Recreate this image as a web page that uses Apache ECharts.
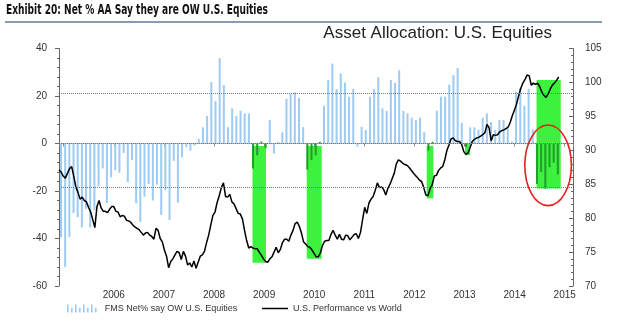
<!DOCTYPE html>
<html><head><meta charset="utf-8">
<script src="https://cdn.jsdelivr.net/npm/echarts@6/dist/echarts.min.js"></script>
<style>html,body{margin:0;padding:0;background:#fff}#c{width:632px;height:323px}</style>
</head><body><div id="c"></div>
<script>
// ---------- data ----------
const titleText = 'Exhibit 20: Net % AA Say they are OW U.S. Equities';
const subtitleText = 'Asset Allocation: U.S. Equities';
const barName = 'FMS Net% say OW U.S. Equities';
const lineName = 'U.S. Performance vs World';

// FMS net % OW U.S. equities, monthly from Dec 2004 (left axis)
const fmsValues = [
  -39.5,-52,-39.3,-29.3,-31,-35.3,-27.5,-35.3,-28,-18,
  -10.5,-25,-14.2,-11.2,-12.3,-4,-16.2,-7,-25.2,-33,
  -22.4,-17,-24,-17.3,-30.1,-19.6,-32.2,-7.3,-24.9,-5.8,
  -1.6,-3,-0.8,1.9,6.8,11.6,25.8,17.8,35.9,24.6,
  6.9,14.8,11.6,13.8,12.7,12.6,-10.5,-5,0.8,-2,
  9.9,-4.2,0.7,4.7,18.8,20.9,21.5,19.2,6.9,-11,
  -7,-5,0.7,15.9,26.7,33.7,22.9,29.5,25.7,19.6,
  22.9,-1.3,7,5.7,19.7,22.9,27.9,14.8,13.7,26.7,
  25.5,30.8,13.7,12.7,10.9,9.9,10.9,4.7,-3,0.7,
  13.8,19.7,19.7,24.8,28.8,31.8,8.6,-1.5,6.8,6.8,
  5.7,10.9,12.7,9,5.7,9.9,9.9,6.3,0.8,21.8,
  23.5,15.9,23,6,-17,-12,-19,-10,-8,-13
];
const fmsFirstYear = 2004, fmsFirstMonth = 11; // Dec 2004 (0-based month)

// U.S. performance vs World (right axis), read at regular steps
const perfStart = 2004.906, perfStep = 0.04208;
const perfValues = [
  87.1,86.8,86.2,85.9,86.6,87.3,87.6,86.2,84.6,83.8,
  82.8,83.1,82.6,82.4,81.6,80.9,79.8,78.6,81.7,82.6,
  81.5,81.0,81.0,80.8,81.3,81.7,81.7,81.0,80.9,80.2,
  80.4,80.3,79.7,79.6,79.4,79.0,78.7,78.5,78.3,77.9,
  77.5,77.8,77.9,77.5,77.3,76.9,78.5,78.2,77.0,76.5,
  75.3,74.4,72.7,73.6,74.0,74.6,75.1,74.9,73.9,75.1,
  74.4,73.1,73.4,72.8,73.7,72.6,73.5,74.4,74.6,75.1,
  76.4,77.5,79.0,80.4,80.9,82.3,83.3,84.5,85.2,83.2,
  83.1,83.5,82.4,82.1,81.4,80.7,80.6,79.9,78.2,76.7,
  75.6,75.8,75.6,75.5,75.5,75.0,74.5,74.0,73.6,73.5,
  74.0,74.3,75.0,75.7,74.9,75.4,76.4,76.9,76.9,76.6,
  77.5,78.2,79.2,79.4,78.8,77.8,76.5,76.2,75.8,75.7,
  75.3,74.8,74.3,74.3,74.9,76.0,76.6,76.7,76.7,77.6,
  78.2,77.5,76.9,77.6,76.9,76.8,77.5,77.4,76.8,77.2,
  77.6,77.7,77.0,77.9,79.8,81.6,80.7,82.2,82.8,83.2,
  84.1,85.2,84.5,84.6,84.2,83.4,84.4,85.0,85.8,86.6,
  88.0,88.6,88.4,88.1,87.9,87.8,87.5,87.1,86.7,86.3,
  86.0,85.6,85.4,84.5,83.4,83.3,84.3,84.9,86.2,86.3,
  87.0,87.4,87.6,88.6,90.0,90.8,91.7,91.8,91.4,91.3,
  91.3,90.9,89.8,89.4,89.6,90.4,91.3,91.6,91.8,91.9,
  92.1,92.3,92.6,93.8,93.3,91.4,92.3,92.2,92.3,92.7,
  92.9,93.0,93.2,93.4,94.1,95.1,95.9,96.8,98.0,99.1,
  99.9,100.4,101.1,101.0,99.6,99.9,99.7,99.9,99.4,98.6,
  98.1,97.8,98.3,99.0,99.6,99.9,100.3,100.8
];

// reference lines on left axis (avg +/- 1 sd, and zero)
const refLines = [21.1, 0, -18.4];
// highlighted periods: [fromYear, toYear, leftAxisTop, leftAxisBottom]
const highlightBoxes = [
  [2008.768, 2009.038, -1, -50.2],
  [2009.850, 2010.149, -1, -48.5],
  [2012.245, 2012.377, -1, -23.1],
  [2013.010, 2013.110, 0, -4.9],
  [2014.437, 2014.920, 26.7, -18.9]
];
// red ellipse annotation: centre (year, left value), radii (years, left units)
const ellipseNote = {cx: 2014.668, cy: -9.2, rx: 0.465, ry: 16.97};

const xMin = 2004.906, xMax = 2015.165;
const leftMin = -60, leftMax = 40, leftStep = 20;
const rightMin = 70, rightMax = 105, rightStep = 5;

// ---------- styles ----------
const BAR_BLUE = '#9dcbf3';
const BAR_HI = '#1f9e2a';
const BOX_GREEN = '#3df23d';
const FONT = '"Liberation Sans", Arial, sans-serif';

const barData = fmsValues.map((v, i) => {
  const x = fmsFirstYear + (fmsFirstMonth + i + 0.35) / 12;
  const hi = highlightBoxes.some(b => x >= b[0] && x <= b[1]);
  return {value: [x, v], itemStyle: {color: hi ? BAR_HI : BAR_BLUE}};
});
const lineData = perfValues.map((v, k) => [perfStart + k * perfStep, v]);

const barIcon = 'path://M0,0h2v10h-2z M5,4h2v6h-2z M10,0h2v10h-2z M15,4h2v6h-2z M20,0h2v10h-2z M25,4h2v6h-2z M30,0h2v10h-2z M35,4h2v6h-2z';

// fit the condensed bold title into its width
const tctx = document.createElement('canvas').getContext('2d');
const titleFont = 'bold 14px "Liberation Sans Narrow", "DejaVu Sans Condensed", "Liberation Sans", sans-serif';
tctx.font = titleFont;
const tw = tctx.measureText(titleText).width;
const titleScale = Math.min(1.3, 262 / tw);

const chart = echarts.init(document.getElementById('c'));
chart.setOption({
  animation: false,
  textStyle: {fontFamily: FONT},
  title: [{
    text: subtitleText, right: 80, top: 25, padding: 0,
    textStyle: {fontSize: 17, fontWeight: 'normal', color: '#222', fontFamily: FONT}
  }],
  graphic: [
    {id: 'ttl', type: 'text', left: 6, top: 3, scaleX: titleScale,
     style: {text: titleText, font: titleFont, fill: '#111'}},
    {id: 'rule', type: 'line', shape: {x1: 5, y1: 22, x2: 602, y2: 22},
     style: {stroke: '#8a9ab5', lineWidth: 2}}
  ],
  legend: [
    {data: [{name: barName, icon: barIcon}], left: 62, top: 299, itemWidth: 36, itemHeight: 8,
     itemGap: 5, selectedMode: false, textStyle: {fontSize: 9, color: '#333', fontFamily: FONT}},
    {data: [{name: lineName, icon: 'rect'}], left: 257, top: 299, itemWidth: 26, itemHeight: 1.5,
     selectedMode: false, textStyle: {fontSize: 9, color: '#333', fontFamily: FONT}}
  ],
  grid: {left: 59, right: 59, top: 48.5, bottom: 37, containLabel: false},
  xAxis: {
    type: 'value', min: xMin, max: xMax, splitNumber: 10, minInterval: 1, maxInterval: 1,
    axisLine: {show: true, lineStyle: {color: '#888', type: 'dotted', width: 1}},
    axisTick: {show: true, length: 3, lineStyle: {color: '#888'}},
    splitLine: {show: false},
    axisLabel: {
      margin: 4, fontSize: 10, color: '#333',
      formatter: v => (Math.abs(v - Math.round(v)) < 1e-6 && Math.round(v) > 2005) ? String(Math.round(v)) : ''
    }
  },
  yAxis: [
    {
      type: 'value', position: 'left', min: leftMin, max: leftMax, interval: leftStep,
      axisLine: {show: true, lineStyle: {color: '#666'}},
      axisTick: {show: true, length: 4, lineStyle: {color: '#666'}},
      minorTick: {show: true, splitNumber: 5, length: 2, lineStyle: {color: '#666'}},
      splitLine: {show: false},
      axisLabel: {margin: 12, fontSize: 10, color: '#333'}
    },
    {
      type: 'value', position: 'right', min: rightMin, max: rightMax, interval: rightStep,
      axisLine: {show: true, lineStyle: {color: '#666'}},
      axisTick: {show: true, inside: true, length: 4, lineStyle: {color: '#666'}},
      minorTick: {show: true, splitNumber: 5, length: 2, lineStyle: {color: '#666'}},
      splitLine: {show: false},
      axisLabel: {margin: 12, fontSize: 10, color: '#333'}
    }
  ],
  series: [
    {
      name: barName, type: 'bar', yAxisIndex: 0, barWidth: 2, data: barData,
      itemStyle: {color: BAR_BLUE},
      markArea: {
        silent: true, itemStyle: {color: BOX_GREEN, opacity: 1},
        data: highlightBoxes.map(b => [{coord: [b[0], b[2]]}, {coord: [b[1], b[3]]}])
      },
      markLine: {
        silent: true, symbol: 'none', label: {show: false},
        lineStyle: {type: 'dotted', color: '#777', width: 1},
        data: refLines.map(v => ({yAxis: v}))
      }
    },
    {
      name: lineName, type: 'line', yAxisIndex: 1, data: lineData, showSymbol: false,
      color: '#000', lineStyle: {color: '#000', width: 1.5}
    }
  ]
});

const c0 = chart.convertToPixel({seriesIndex: 0}, [ellipseNote.cx, ellipseNote.cy]);
const c1 = chart.convertToPixel({seriesIndex: 0}, [ellipseNote.cx + ellipseNote.rx, ellipseNote.cy + ellipseNote.ry]);
chart.setOption({
  graphic: [{
    id: 'ell', type: 'ellipse', z: 100,
    shape: {cx: c0[0], cy: c0[1], rx: Math.abs(c1[0] - c0[0]), ry: Math.abs(c0[1] - c1[1])},
    style: {fill: 'none', stroke: '#e5211d', lineWidth: 1.6}
  }]
});
</script>
</body></html>
